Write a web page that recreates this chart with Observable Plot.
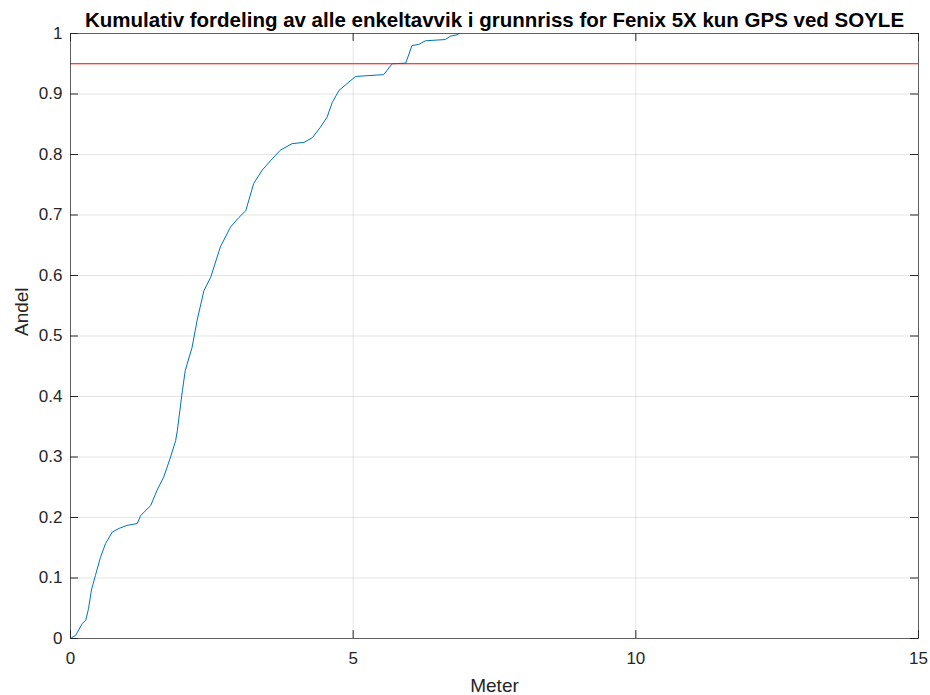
<!DOCTYPE html>
<html>
<head>
<meta charset="utf-8">
<script src="https://cdn.jsdelivr.net/npm/d3@7"></script>
<script src="https://cdn.jsdelivr.net/npm/@observablehq/plot@0.6"></script>
<style>
  html, body { margin: 0; padding: 0; background: #fff; }
  svg text { font-family: "Liberation Sans", Arial, sans-serif; }
</style>
</head>
<body>
<div id="chart"></div>
<script>
// CDF of deviations (meters) and cumulative share
const meters = [0, 0.09, 0.21, 0.27, 0.32, 0.37, 0.44, 0.53, 0.62, 0.74, 0.86, 1.0, 1.18, 1.24, 1.42, 1.53, 1.65, 1.77, 1.86, 1.89, 1.98, 2.03, 2.15, 2.24, 2.36, 2.48, 2.65, 2.83, 2.98, 3.10, 3.24, 3.39, 3.54, 3.71, 3.92, 4.13, 4.28, 4.42, 4.54, 4.63, 4.75, 4.89, 5.04, 5.54, 5.69, 5.93, 6.04, 6.16, 6.28, 6.63, 6.72, 6.84, 6.87];
const andel  = [0, 0.005, 0.025, 0.03, 0.05, 0.08, 0.104, 0.134, 0.157, 0.176, 0.182, 0.187, 0.19, 0.203, 0.22, 0.245, 0.267, 0.30, 0.327, 0.344, 0.41, 0.443, 0.481, 0.526, 0.575, 0.597, 0.647, 0.68, 0.696, 0.707, 0.752, 0.774, 0.79, 0.807, 0.818, 0.82, 0.828, 0.845, 0.862, 0.886, 0.906, 0.917, 0.929, 0.932, 0.95, 0.951, 0.98, 0.982, 0.988, 0.99, 0.9955, 0.998, 1.0];
const threshold = [0.95];
const xTicks = [0, 5, 10, 15];
const yTicks = [0, 0.1, 0.2, 0.3, 0.4, 0.5, 0.6, 0.7, 0.8, 0.9, 1];
const titleText = "Kumulativ fordeling av alle enkeltavvik i grunnriss for Fenix 5X kun GPS ved SOYLE";
const xLabel = "Meter";
const yLabel = "Andel";

const data = meters.map((m, i) => ({m, a: andel[i]}));
const textColor = "#262626";

const chart = Plot.plot({
  width: 930,
  height: 695,
  marginLeft: 70,
  marginRight: 12,
  marginTop: 33,
  marginBottom: 57,
  style: {fontFamily: "'Liberation Sans', Arial, sans-serif", fontSize: "17px", color: textColor, background: "#fff"},
  x: {domain: [0, 15], ticks: xTicks},
  y: {domain: [0, 1], ticks: yTicks},
  marks: [
    Plot.gridX(xTicks, {stroke: "#000", strokeOpacity: 0.1}),
    Plot.gridY(yTicks, {stroke: "#000", strokeOpacity: 0.1}),
    Plot.ruleX(xTicks, {y1: 0, y2: 0.013, stroke: textColor}),
    Plot.ruleX(xTicks, {y1: 0.987, y2: 1, stroke: textColor}),
    Plot.ruleY(yTicks, {x1: 0, x2: 0.14, stroke: textColor}),
    Plot.ruleY(yTicks, {x1: 14.86, x2: 15, stroke: textColor}),
    Plot.axisX(xTicks, {tickSize: 0, tickPadding: 13, fontSize: 17, label: null, fill: textColor, tickFormat: d => String(d)}),
    Plot.axisY(yTicks, {tickSize: 0, tickPadding: 8, fontSize: 17, label: null, fill: textColor, tickFormat: d => String(d)}),
    Plot.ruleY(threshold, {stroke: "#ff0000", strokeWidth: 1}),
    Plot.line(data, {x: "m", y: "a", stroke: "#0072BD", strokeWidth: 1}),
    Plot.frame({stroke: textColor, strokeOpacity: 0.7}),
    Plot.text([titleText], {frameAnchor: "top", dy: -13, fontSize: 20.5, fontWeight: "bold", fill: "#000", lineAnchor: "middle"}),
    Plot.text([xLabel], {frameAnchor: "bottom", dy: 47, fontSize: 19, fill: textColor, lineAnchor: "middle"}),
    Plot.text([yLabel], {frameAnchor: "left", dx: -49, rotate: -90, fontSize: 19, fill: textColor, lineAnchor: "middle"})
  ]
});
document.getElementById("chart").appendChild(chart);
</script>
</body>
</html>
